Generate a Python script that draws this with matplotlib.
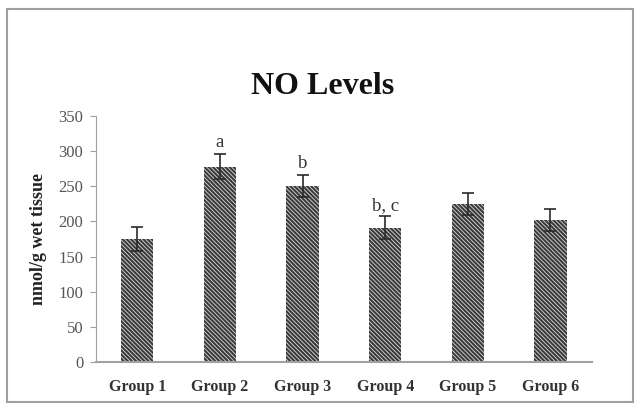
import numpy as np
import matplotlib.pyplot as plt
from matplotlib.patches import Rectangle

# datos
grupos = ['Group 1', 'Group 2', 'Group 3', 'Group 4', 'Group 5', 'Group 6']
niveles = [175, 278, 250, 191, 225, 202]
errores = [17, 18, 16, 16, 16, 15]
letras = ['', 'a', 'b', 'b, c', '', '']

plt.rcParams['font.family'] = ['Liberation Serif', 'DejaVu Serif']
plt.rcParams['hatch.linewidth'] = 1.5
plt.rcParams['hatch.color'] = '#3a3a3a'

fig = plt.figure(figsize=(6.35, 4.04), dpi=100)
ax = fig.add_axes([0.151, 0.104, 0.781, 0.609])

# marco gris de la figura
fig.patches.append(Rectangle((7 / 635, 2 / 404), 626 / 635, 393 / 404,
                             transform=fig.transFigure, fill=False,
                             edgecolor='#a0a0a0', linewidth=1.5))

x = np.arange(len(grupos))
ax.bar(x, niveles, width=0.39, color='#d8d8d8', edgecolor='#3a3a3a',
       linewidth=0, hatch='\\' * 8)
ax.errorbar(x, niveles, yerr=errores, fmt='none', ecolor='#2a2a2a',
            elinewidth=1.2, capsize=4, capthick=1.2)

for xi, v, e, t in zip(x, niveles, errores, letras):
    if t:
        ax.text(xi, v + e + 4, t, ha='center', va='bottom', fontsize=13.5,
                color='#333333')

ax.set_xlim(-0.5, len(grupos) - 0.5)
ax.set_ylim(0, 350)
ax.set_yticks(np.arange(0, 351, 50))
ax.set_xticks(x)
ax.set_xticklabels(grupos, fontweight='bold', fontsize=11.5, color='#333333')
ax.tick_params(axis='x', length=0, pad=12)
ax.tick_params(axis='y', length=4, color='#a0a0a0', labelsize=12,
               labelcolor='#555555', pad=5)

for s in ['top', 'right']:
    ax.spines[s].set_visible(False)
ax.spines['left'].set_color('#a0a0a0')
ax.spines['bottom'].set_color('#a0a0a0')
ax.spines['bottom'].set_linewidth(1.5)

ax.set_ylabel('nmol/g wet tissue', fontweight='bold', fontsize=13,
              color='#222222', labelpad=8)
fig.text(0.508, 0.785, 'NO Levels', ha='center', va='center',
         fontsize=23, fontweight='bold', color='#111111')

fig.savefig('out.png', dpi=100)
